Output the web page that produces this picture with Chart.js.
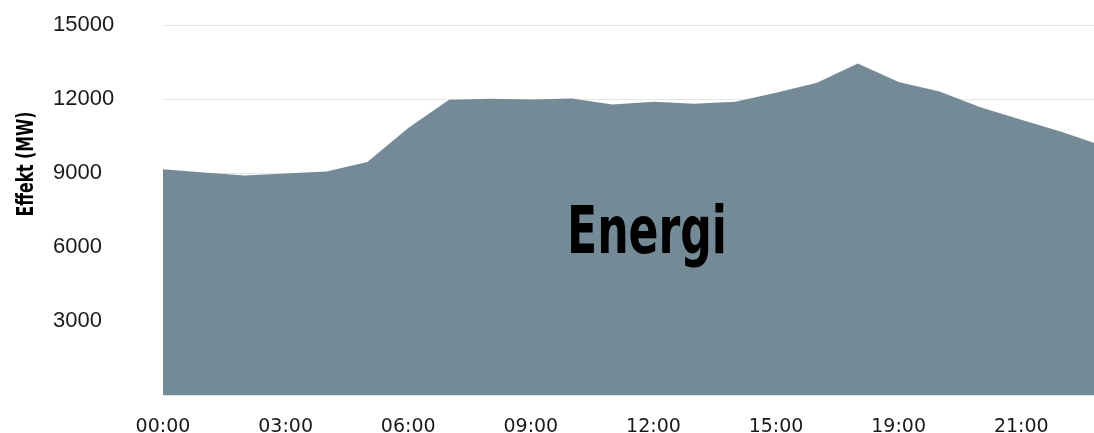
<!DOCTYPE html>
<html>
<head>
<meta charset="utf-8">
<script src="https://cdn.jsdelivr.net/npm/chart.js@4.4.1/dist/chart.umd.min.js"></script>
<style>
  html, body { margin: 0; padding: 0; overflow: hidden; background: #fff; }
  #wrap { width: 1103px; height: 433px; position: relative; }
</style>
</head>
<body>
<div id="wrap"><canvas id="c"></canvas></div>
<script>
// ---- Data ----
const categories = [
  "00:00","01:00","02:00","03:00","04:00","05:00","06:00","07:00",
  "08:00","09:00","10:00","11:00","12:00","13:00","14:00","15:00",
  "16:00","17:00","19:00","20:00","20:00","21:00","22:00","23:00"
];
const effektMW = [
  9160, 9030, 8900, 8980, 9065, 9446, 10824, 11971,
  12012, 11984, 12024, 11781, 11890, 11809, 11890, 12255,
  12661, 13443, 12689, 12308, 11667, 11161, 10662, 10098
];
const yTicks = [0, 3000, 6000, 9000, 12000, 15000];
const yAxisTitle = "Effekt (MW)";
const watermark = "Energi";

const boldFont = '"DejaVu Sans", sans-serif';

// draw text condensed horizontally to a given width (keeps it real text)
function condensedText(ctx, text, fontPx, targetWidth) {
  ctx.font = 'bold ' + fontPx + 'px ' + boldFont;
  const w = ctx.measureText(text).width;
  const s = targetWidth / w;
  ctx.scale(s, 1);
  ctx.fillText(text, 0, 0);
}

const overlayText = {
  id: 'overlayText',
  afterDatasetsDraw(chart) {
    const ctx = chart.ctx;
    const a = chart.chartArea;
    ctx.save();
    ctx.fillStyle = '#000';
    ctx.textAlign = 'center';
    ctx.textBaseline = 'alphabetic';
    ctx.translate(a.left + (a.right - a.left) * 0.5 + 14, 253);
    condensedText(ctx, watermark, 66, 160);
    ctx.restore();
  },
  afterDraw(chart) {
    const ctx = chart.ctx;
    const a = chart.chartArea;
    ctx.save();
    ctx.translate(32.5, 164);
    ctx.rotate(-Math.PI / 2);
    ctx.fillStyle = '#000';
    ctx.textAlign = 'center';
    ctx.textBaseline = 'alphabetic';
    condensedText(ctx, yAxisTitle, 23, 105);
    ctx.restore();
  }
};

new Chart(document.getElementById('c'), {
  type: 'line',
  data: {
    labels: categories,
    datasets: [{
      data: effektMW,
      fill: 'origin',
      backgroundColor: '#748b97',
      borderWidth: 0,
      borderColor: '#748b97',
      pointRadius: 0,
      pointHoverRadius: 0,
      tension: 0
    }]
  },
  options: {
    responsive: true,
    maintainAspectRatio: false,
    animation: false,
    layout: { padding: { left: 53, top: 25, right: 0, bottom: 0 } },
    plugins: {
      legend: { display: false },
      tooltip: { enabled: false },
      title: { display: false }
    },
    scales: {
      x: {
        border: { display: false },
        grid: { display: false, drawTicks: false },
        ticks: {
          maxRotation: 0,
          autoSkip: true,
          maxTicksLimit: 8,
          padding: 20,
          color: '#1a1a1a',
          font: { family: '"DejaVu Sans", sans-serif', size: 19, lineHeight: 1.2 }
        },
        afterFit(scale) {
          scale.height = 37.7;
          scale.paddingLeft = 0;
          scale.paddingRight = 0;
        }
      },
      y: {
        min: 0,
        max: 15000,
        afterBuildTicks(scale) {
          scale.ticks = yTicks.map(v => ({ value: v }));
        },
        border: { display: false },
        grid: { color: '#e6e6e6', lineWidth: 1, drawTicks: false },
        ticks: {
          crossAlign: 'far',
          padding: 0,
          color: '#1a1a1a',
          font: { family: '"Liberation Sans", Arial, sans-serif', size: 22 },
          callback: (v) => (v === 0 ? '' : String(v))
        },
        afterFit(scale) {
          scale.width = 110;
        }
      }
    }
  },
  plugins: [overlayText]
});
</script>
</body>
</html>
